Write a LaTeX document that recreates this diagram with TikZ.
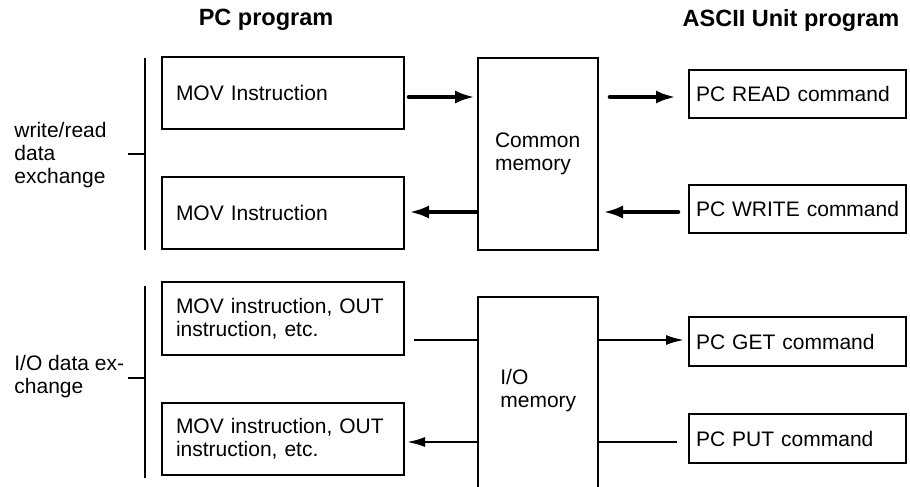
\documentclass[tikz,border=0pt]{standalone}
\usepackage{fontspec}
\setmainfont{Liberation Sans}
\usetikzlibrary{arrows.meta}
\newcommand{\bodyfont}{\fontsize{10.5}{11.5}\selectfont\hyphenpenalty=10000\exhyphenpenalty=10000}
\newcommand{\titlefont}{\fontsize{11.75}{13}\selectfont\bfseries}
\begin{document}
\begin{tikzpicture}[x=0.5pt,y=-0.5pt,
  box/.style={draw, line width=1pt, rectangle, inner ysep=0pt, align=left, font=\bodyfont},
  movbox/.style={box, inner xsep=7pt, text width=107pt, minimum width=121pt, minimum height=36pt},
  pcbox/.style={box, inner xsep=3.5pt, text width=105pt, minimum width=108.5pt, minimum height=24pt},
  membox/.style={box, inner xsep=8.5pt, text width=43pt, minimum width=60pt},
  plain/.style={font=\bodyfont, align=left, inner sep=0pt},
  title/.style={font=\titlefont, inner sep=0pt},
  bracket/.style={line width=1pt},
  bigarrow/.style={line width=2.3pt, line cap=round, -{Latex[length=10pt,width=6.5pt]}},
  smallarrow/.style={line width=1pt, -{Latex[length=9pt,width=5pt]}},
  smallline/.style={line width=1pt}
]
\useasboundingbox (0,0) rectangle (910,487);
\clip (0,0) rectangle (910,487);

% titles
\node[title] (t1) at (266,20) {PC program};
\node[title] (t2) at (791,20) {ASCII Unit program};

% left labels
\node[plain, anchor=west] (wr) at (14,155) {write/read\\data\\exchange};
\node[plain, anchor=west] (io) at (14,377) {I/O data ex-\\change};

% brackets
\coordinate (b1t) at (145,58);
\coordinate (b1b) at (145,250);
\coordinate (b1m) at (145,154);
\coordinate (b1l) at (128,154);
\coordinate (b2t) at (145,286);
\coordinate (b2b) at (145,478);
\coordinate (b2m) at (145,378);
\coordinate (b2l) at (128,378);
\draw[bracket] (b1t) -- (b1b);
\draw[bracket] (b1l) -- (b1m);
\draw[bracket] (b2t) -- (b2b);
\draw[bracket] (b2l) -- (b2m);

% PC program boxes
\node[movbox] (mov1) at (283,93) {MOV Instruction};
\node[movbox] (mov2) at (283,213) {MOV Instruction};
\node[movbox, minimum height=36.5pt] (mov3) at (283,318.5) {MOV instruction, OUT\\instruction, etc.};
\node[movbox] (mov4) at (283,439) {MOV instruction, OUT\\instruction, etc.};

% memory boxes
\node[membox, minimum height=96pt] (cm) at (538,154) {Common\\memory};
\node[membox, minimum height=100pt] (iom) at (538,397) {};
\node[plain, anchor=west] (iomtext) at (500,391) {I/O\\memory};

% ASCII unit boxes (text width trimmed back so the box keeps its width)
\node[pcbox, text width=101.5pt] (read) at (797.5,93.5) {PC READ command};
\node[pcbox, text width=101.5pt] (write) at (797.5,208.5) {\mbox{PC WRITE command}};
\node[pcbox, text width=101.5pt, minimum height=24.5pt] (get) at (797.5,341.5) {PC GET command};
\node[pcbox, text width=101.5pt, minimum height=24.5pt] (put) at (797.5,438.5) {PC PUT command};

% rows
\coordinate (r1) at (0,97);
\coordinate (r2) at (0,212);
\coordinate (r3) at (0,340);
\coordinate (r4) at (0,442);

% top arrows
\draw[bigarrow, shorten <=2pt, shorten >=1pt] (mov1.east |- r1) -- (cm.west |- r1);
\draw[bigarrow, shorten <=5.5pt, shorten >=6pt] (cm.east |- r1) -- (read.west |- r1);
\draw[bigarrow, shorten <=5pt, shorten >=2pt] (write.west |- r2) -- (cm.east |- r2);
\draw[bigarrow, shorten <=0.5pt, shorten >=2pt] (cm.west |- r2) -- (mov2.east |- r2);

% bottom lines
\draw[smallline, shorten <=4.5pt] (mov3.east |- r3) -- (iom.west |- r3);
\draw[smallarrow, shorten >=2pt] (iom.east |- r3) -- (get.west |- r3);
\draw[smallline, shorten <=5.5pt] (put.west |- r4) -- (iom.east |- r4);
\draw[smallarrow, shorten >=1pt] (iom.west |- r4) -- (mov4.east |- r4);
\end{tikzpicture}
\end{document}
